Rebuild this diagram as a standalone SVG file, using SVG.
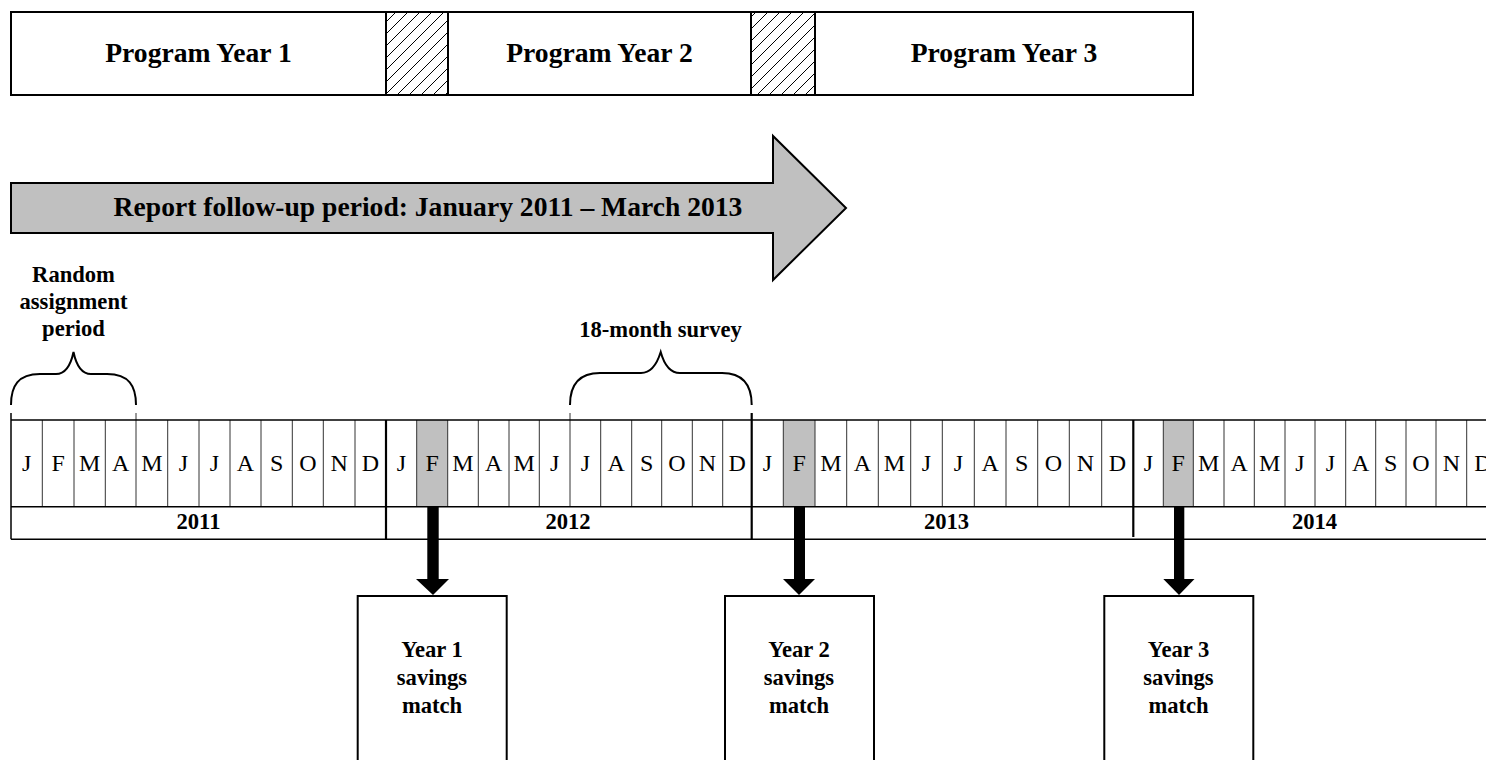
<svg xmlns="http://www.w3.org/2000/svg" width="1486" height="760" viewBox="0 0 1486 760">
<style>
.b{font-family:"Liberation Serif","Times New Roman",serif;font-weight:bold;fill:#000;text-anchor:middle}
.big{font-size:27.6px}
.med{font-size:22.6px}
.m{font-family:"Liberation Serif","Times New Roman",serif;font-size:24px;fill:#000;text-anchor:middle}
.box{fill:#fff;stroke:#000;stroke-width:2}
.ml{stroke:#333;stroke-width:1}
.yl{stroke:#000;stroke-width:2.2}
.gl{stroke:#000;stroke-width:1.5}
.brace{fill:none;stroke:#000;stroke-width:2}
.dn{fill:#000}
</style>
<defs>
<pattern id="hatch" patternUnits="userSpaceOnUse" width="12" height="12">
<path d="M-3,3 L3,-3 M0,12 L12,0 M9,15 L15,9" stroke="#000" stroke-width="1"/>
</pattern>
</defs>

<g id="program-years">
<rect class="box" x="11" y="12" width="1182" height="83"/>
<rect x="386" y="12" width="62" height="83" fill="url(#hatch)" stroke="#000" stroke-width="2"/>
<rect x="751" y="12" width="64" height="83" fill="url(#hatch)" stroke="#000" stroke-width="2"/>
<text class="b big" x="198.5" y="62">Program Year 1</text>
<text class="b big" x="599.5" y="62">Program Year 2</text>
<text class="b big" x="1004" y="62">Program Year 3</text>
</g>

<g id="follow-up-arrow">
<path d="M11,183 L773,183 L773,136 L846,208 L773,280 L773,233 L11,233 Z" fill="#C0C0C0" stroke="#000" stroke-width="2"/>
<text class="b big" x="428" y="216">Report follow-up period: January 2011 – March 2013</text>
</g>

<g id="random-assignment">
<text class="b med" x="73.5" y="282">Random</text>
<text class="b med" x="73.5" y="309">assignment</text>
<text class="b med" x="73.5" y="336">period</text>
<path class="brace" d="M11,405 C11,386 18,374 40,374 L56,374 C66,374 71,364 73.5,352 C76,364 81,374 91,374 L107,374 C129,374 136,386 136,405"/>
</g>

<g id="survey">
<text class="b med" x="660.5" y="337">18-month survey</text>
<path class="brace" d="M570,405 C570,386 578,373 600,373 L641,373 C651,373 657,364 660.7,352 C664,364 670,373 680,373 L722,373 C744,373 751.7,386 751.7,405"/>
</g>

<g id="timeline">
<rect x="416.7" y="420" width="31" height="86.7" fill="#C0C0C0"/>
<rect x="783.3" y="420" width="31.7" height="86.7" fill="#C0C0C0"/>
<rect x="1163.3" y="420" width="30" height="86.7" fill="#C0C0C0"/>
<g class="ml">
<line x1="42.3" y1="420" x2="42.3" y2="506.7"/>
<line x1="74" y1="420" x2="74" y2="506.7"/>
<line x1="105.3" y1="420" x2="105.3" y2="506.7"/>
<line x1="136" y1="413" x2="136" y2="506.7"/>
<line x1="167.7" y1="420" x2="167.7" y2="506.7"/>
<line x1="199" y1="420" x2="199" y2="506.7"/>
<line x1="230" y1="420" x2="230" y2="506.7"/>
<line x1="261" y1="420" x2="261" y2="506.7"/>
<line x1="292.3" y1="420" x2="292.3" y2="506.7"/>
<line x1="323.3" y1="420" x2="323.3" y2="506.7"/>
<line x1="355" y1="420" x2="355" y2="506.7"/>
<line x1="416.7" y1="420" x2="416.7" y2="506.7"/>
<line x1="447.7" y1="420" x2="447.7" y2="506.7"/>
<line x1="478.3" y1="420" x2="478.3" y2="506.7"/>
<line x1="509" y1="420" x2="509" y2="506.7"/>
<line x1="539.3" y1="420" x2="539.3" y2="506.7"/>
<line x1="570" y1="413" x2="570" y2="506.7"/>
<line x1="600.7" y1="420" x2="600.7" y2="506.7"/>
<line x1="631.7" y1="420" x2="631.7" y2="506.7"/>
<line x1="661.7" y1="420" x2="661.7" y2="506.7"/>
<line x1="692.3" y1="420" x2="692.3" y2="506.7"/>
<line x1="722.7" y1="420" x2="722.7" y2="506.7"/>
<line x1="783.3" y1="420" x2="783.3" y2="506.7"/>
<line x1="815" y1="420" x2="815" y2="506.7"/>
<line x1="846.7" y1="420" x2="846.7" y2="506.7"/>
<line x1="878.3" y1="420" x2="878.3" y2="506.7"/>
<line x1="910.7" y1="420" x2="910.7" y2="506.7"/>
<line x1="942.3" y1="420" x2="942.3" y2="506.7"/>
<line x1="974.3" y1="420" x2="974.3" y2="506.7"/>
<line x1="1006" y1="420" x2="1006" y2="506.7"/>
<line x1="1037.7" y1="420" x2="1037.7" y2="506.7"/>
<line x1="1069.3" y1="420" x2="1069.3" y2="506.7"/>
<line x1="1101.7" y1="420" x2="1101.7" y2="506.7"/>
<line x1="1163.3" y1="420" x2="1163.3" y2="506.7"/>
<line x1="1193.3" y1="420" x2="1193.3" y2="506.7"/>
<line x1="1224" y1="420" x2="1224" y2="506.7"/>
<line x1="1254.3" y1="420" x2="1254.3" y2="506.7"/>
<line x1="1285" y1="420" x2="1285" y2="506.7"/>
<line x1="1315" y1="420" x2="1315" y2="506.7"/>
<line x1="1345.7" y1="420" x2="1345.7" y2="506.7"/>
<line x1="1375.7" y1="420" x2="1375.7" y2="506.7"/>
<line x1="1406" y1="420" x2="1406" y2="506.7"/>
<line x1="1436" y1="420" x2="1436" y2="506.7"/>
<line x1="1466.7" y1="420" x2="1466.7" y2="506.7"/>
</g>
<g class="gl">
<line x1="11" y1="420" x2="1486" y2="420"/>
<line x1="11" y1="506.7" x2="1486" y2="506.7"/>
<line x1="11" y1="539.3" x2="1486" y2="539.3"/>
<line x1="11" y1="413" x2="11" y2="539.3"/>
</g>
<g class="yl">
<line x1="386" y1="420" x2="386" y2="539.3"/>
<line x1="751.7" y1="413" x2="751.7" y2="539.3"/>
<line x1="1133.3" y1="420" x2="1133.3" y2="537"/>
</g>
<g>
<text class="m" x="26.7" y="471">J</text>
<text class="m" x="58.2" y="471">F</text>
<text class="m" x="89.7" y="471">M</text>
<text class="m" x="120.7" y="471">A</text>
<text class="m" x="151.8" y="471">M</text>
<text class="m" x="183.3" y="471">J</text>
<text class="m" x="214.5" y="471">J</text>
<text class="m" x="245.5" y="471">A</text>
<text class="m" x="276.7" y="471">S</text>
<text class="m" x="307.8" y="471">O</text>
<text class="m" x="339.2" y="471">N</text>
<text class="m" x="370.5" y="471">D</text>
<text class="m" x="401.3" y="471">J</text>
<text class="m" x="432.2" y="471">F</text>
<text class="m" x="463" y="471">M</text>
<text class="m" x="493.7" y="471">A</text>
<text class="m" x="524.2" y="471">M</text>
<text class="m" x="554.7" y="471">J</text>
<text class="m" x="585.3" y="471">J</text>
<text class="m" x="616.2" y="471">A</text>
<text class="m" x="646.7" y="471">S</text>
<text class="m" x="677" y="471">O</text>
<text class="m" x="707.5" y="471">N</text>
<text class="m" x="737.2" y="471">D</text>
<text class="m" x="767.5" y="471">J</text>
<text class="m" x="799.2" y="471">F</text>
<text class="m" x="830.8" y="471">M</text>
<text class="m" x="862.5" y="471">A</text>
<text class="m" x="894.5" y="471">M</text>
<text class="m" x="926.5" y="471">J</text>
<text class="m" x="958.3" y="471">J</text>
<text class="m" x="990.2" y="471">A</text>
<text class="m" x="1021.8" y="471">S</text>
<text class="m" x="1053.5" y="471">O</text>
<text class="m" x="1085.5" y="471">N</text>
<text class="m" x="1117.5" y="471">D</text>
<text class="m" x="1148.3" y="471">J</text>
<text class="m" x="1178.3" y="471">F</text>
<text class="m" x="1208.7" y="471">M</text>
<text class="m" x="1239.2" y="471">A</text>
<text class="m" x="1269.7" y="471">M</text>
<text class="m" x="1300" y="471">J</text>
<text class="m" x="1330.3" y="471">J</text>
<text class="m" x="1360.7" y="471">A</text>
<text class="m" x="1390.8" y="471">S</text>
<text class="m" x="1421" y="471">O</text>
<text class="m" x="1451.3" y="471">N</text>
<text class="m" x="1483" y="471">D</text>
</g>
<text class="b med" x="198.5" y="529">2011</text>
<text class="b med" x="568" y="529">2012</text>
<text class="b med" x="946.5" y="529">2013</text>
<text class="b med" x="1314.5" y="529">2014</text>
</g>

<g id="year1-match">
<rect class="box" x="357.7" y="596" width="149" height="190"/>
<text class="b med" x="432" y="657">Year 1</text>
<text class="b med" x="432" y="685">savings</text>
<text class="b med" x="432" y="712.5">match</text>
</g>
<g id="year2-match">
<rect class="box" x="725" y="596" width="149" height="190"/>
<text class="b med" x="799" y="657">Year 2</text>
<text class="b med" x="799" y="685">savings</text>
<text class="b med" x="799" y="712.5">match</text>
</g>
<g id="year3-match">
<rect class="box" x="1104.3" y="596" width="149" height="190"/>
<text class="b med" x="1178.5" y="657">Year 3</text>
<text class="b med" x="1178.5" y="685">savings</text>
<text class="b med" x="1178.5" y="712.5">match</text>
</g>

<g id="connectors">
<path class="dn" d="M427.3,506.7 L438.7,506.7 L438.7,579 L449,579 L433,595 L416,579 L427.3,579 Z"/>
<path class="dn" d="M794,506.7 L805,506.7 L805,579 L815,579 L799,595 L783,579 L794,579 Z"/>
<path class="dn" d="M1174,506.7 L1184.3,506.7 L1184.3,579 L1194.5,579 L1179,595 L1163.3,579 L1174,579 Z"/>
</g>
</svg>
